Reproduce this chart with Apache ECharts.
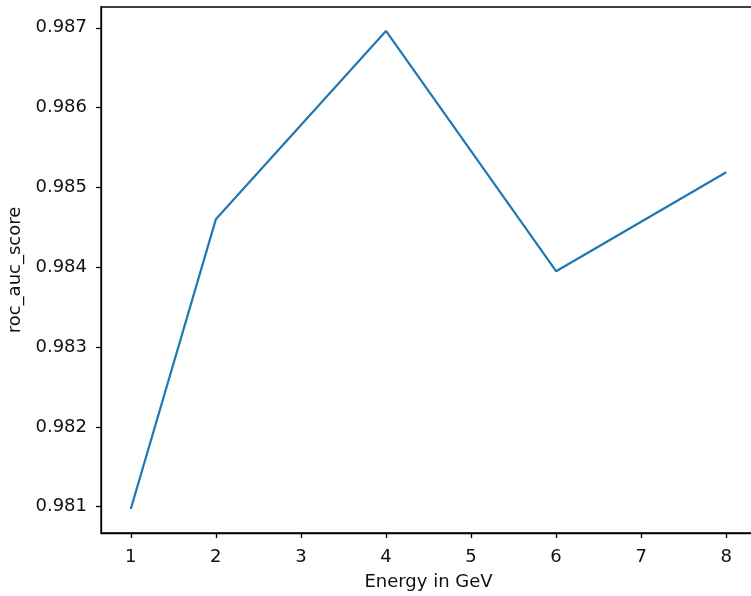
<!DOCTYPE html>
<html>
<head>
<meta charset="utf-8">
<script src="https://cdn.jsdelivr.net/npm/echarts@6/dist/echarts.min.js"></script>
<style>
  html, body { margin: 0; padding: 0; background: #fff; }
  #chart { width: 751px; height: 596px; }
</style>
</head>
<body>
<div id="chart"></div>
<script>
// Energy bins (GeV) and ROC AUC score per bin
const energies = [1, 2, 4, 6, 8];
const rocAuc = [0.98097, 0.98460, 0.98696, 0.98395, 0.98519];
const xTicks = [1, 2, 3, 4, 5, 6, 7, 8];
const yTicks = [0.981, 0.982, 0.983, 0.984, 0.985, 0.986, 0.987];

const font = 'DejaVu Sans';
const chart = echarts.init(document.getElementById('chart'), null, { renderer: 'canvas' });

chart.setOption({
  animation: false,
  grid: {
    left: 101, top: 7, width: 655, height: 526,
    containLabel: false, outerBoundsMode: 'none',
    show: true, borderColor: '#000', borderWidth: 1.3, backgroundColor: 'transparent'
  },
  xAxis: {
    type: 'value',
    min: 0.65, max: 8.35,
    name: 'Energy in GeV',
    nameLocation: 'middle',
    nameGap: 40,
    nameTextStyle: { fontFamily: font, fontSize: 18, color: '#111' },
    splitLine: { show: false },
    axisLine: { show: true, onZero: false, lineStyle: { color: '#000', width: 1.3 } },
    axisTick: { show: true, inside: false, length: 5, customValues: xTicks, lineStyle: { color: '#000', width: 1.3 } },
    axisLabel: { customValues: xTicks, margin: 15, fontFamily: font, fontSize: 18, color: '#111' }
  },
  yAxis: {
    type: 'value',
    min: 0.98067, max: 0.98726,
    name: 'roc_auc_score',
    nameLocation: 'middle',
    nameGap: 69,
    nameTextStyle: { fontFamily: font, fontSize: 18, color: '#111' },
    splitLine: { show: false },
    axisLine: { show: true, onZero: false, lineStyle: { color: '#000', width: 1.3 } },
    axisTick: { show: true, inside: false, length: 5, customValues: yTicks, lineStyle: { color: '#000', width: 1.3 } },
    axisLabel: {
      customValues: yTicks, margin: 14, fontFamily: font, fontSize: 18, color: '#111',
      formatter: v => v.toFixed(3)
    }
  },
  series: [{
    type: 'line',
    data: energies.map((e, i) => [e, rocAuc[i]]),
    showSymbol: false,
    symbol: 'none',
    lineStyle: { color: '#1f77b4', width: 2.2 },
    clip: false
  }]
});
</script>
</body>
</html>
